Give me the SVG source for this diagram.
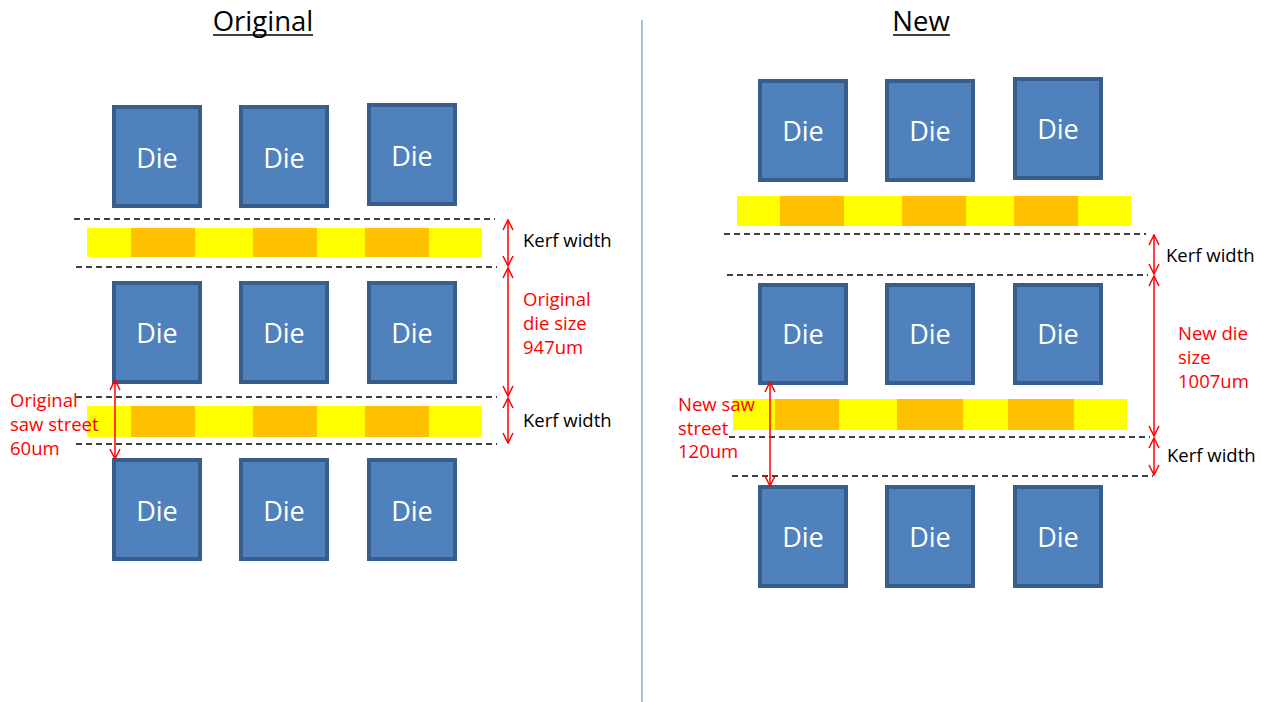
<svg xmlns="http://www.w3.org/2000/svg" width="1261" height="702" viewBox="0 0 1261 702">
<style>
.die rect{fill:#4F81BD;stroke:#385D8A;stroke-width:4}
.die text{fill:#fff;font-family:"Open Sans","Liberation Sans",sans-serif;font-size:27px;text-anchor:middle;dominant-baseline:central}
.strip{fill:#FFFF00}
.seg{fill:#FFC000}
.dash{stroke:#000;stroke-width:1.3;stroke-dasharray:6,4;fill:none}
.dim{stroke:#FF0000;stroke-width:1.5;fill:none}
.lbl{font-family:"Open Sans","Liberation Sans",sans-serif;font-size:18.5px;fill:#000}
.red{fill:#FF0000}
.title{font-family:"Open Sans","Liberation Sans",sans-serif;font-size:27.5px;fill:#000;text-anchor:middle}
</style>
<defs>
<marker id="ah" viewBox="0 0 12 12" refX="11" refY="6" markerWidth="12" markerHeight="12" markerUnits="userSpaceOnUse" orient="auto-start-reverse">
<path d="M1,1 L11,6 L1,11" fill="none" stroke="#FF0000" stroke-width="1.5"/>
</marker>
</defs>
<rect width="1261" height="702" fill="#fff"/>
<line x1="642" y1="20" x2="642" y2="702" stroke="#5B9BD5" stroke-width="1.2"/>
<g id="title-original"><text class="title" x="263" y="31">Original</text><line x1="213" y1="35" x2="313" y2="35" stroke="#000" stroke-width="1.5"/></g>
<g id="title-new"><text class="title" x="921" y="31">New</text><line x1="893" y1="35" x2="950" y2="35" stroke="#000" stroke-width="1.5"/></g>

<!-- Original dies -->
<g id="o-d11" class="die"><rect x="114" y="107" width="86" height="99"/><text x="157" y="157">Die</text></g>
<g id="o-d12" class="die"><rect x="241" y="107" width="86" height="99"/><text x="284" y="157">Die</text></g>
<g id="o-d13" class="die"><rect x="369" y="105" width="86" height="99"/><text x="412" y="155">Die</text></g>
<g id="o-d21" class="die"><rect x="114" y="283" width="86" height="99"/><text x="157" y="332">Die</text></g>
<g id="o-d22" class="die"><rect x="241" y="283" width="86" height="99"/><text x="284" y="332">Die</text></g>
<g id="o-d23" class="die"><rect x="369" y="283" width="86" height="99"/><text x="412" y="332">Die</text></g>
<g id="o-d31" class="die"><rect x="114" y="460" width="86" height="99"/><text x="157" y="510">Die</text></g>
<g id="o-d32" class="die"><rect x="241" y="460" width="86" height="99"/><text x="284" y="510">Die</text></g>
<g id="o-d33" class="die"><rect x="369" y="460" width="86" height="99"/><text x="412" y="510">Die</text></g>

<g id="o-strip1"><rect class="strip" x="87" y="228" width="395" height="29"/><rect class="seg" x="131" y="228" width="64" height="29"/><rect class="seg" x="253" y="228" width="64" height="29"/><rect class="seg" x="365" y="228" width="64" height="29"/></g>
<g id="o-strip2"><rect class="strip" x="87" y="406" width="395" height="31"/><rect class="seg" x="131" y="406" width="64" height="31"/><rect class="seg" x="253" y="406" width="64" height="31"/><rect class="seg" x="365" y="406" width="64" height="31"/></g>

<!-- New dies -->
<g id="n-d11" class="die"><rect x="760" y="81" width="86" height="99"/><text x="803" y="130">Die</text></g>
<g id="n-d12" class="die"><rect x="887" y="81" width="86" height="99"/><text x="930" y="130">Die</text></g>
<g id="n-d13" class="die"><rect x="1015" y="79" width="86" height="99"/><text x="1058" y="128">Die</text></g>
<g id="n-d21" class="die"><rect x="760" y="285" width="86" height="98"/><text x="803" y="333">Die</text></g>
<g id="n-d22" class="die"><rect x="887" y="285" width="86" height="98"/><text x="930" y="333">Die</text></g>
<g id="n-d23" class="die"><rect x="1015" y="285" width="86" height="98"/><text x="1058" y="333">Die</text></g>
<g id="n-d31" class="die"><rect x="760" y="487" width="86" height="99"/><text x="803" y="536">Die</text></g>
<g id="n-d32" class="die"><rect x="887" y="487" width="86" height="99"/><text x="930" y="536">Die</text></g>
<g id="n-d33" class="die"><rect x="1015" y="487" width="86" height="99"/><text x="1058" y="536">Die</text></g>

<g id="n-strip1"><rect class="strip" x="737" y="196" width="394" height="30"/><rect class="seg" x="780" y="196" width="64" height="30"/><rect class="seg" x="902" y="196" width="64" height="30"/><rect class="seg" x="1014" y="196" width="64" height="30"/></g>
<g id="n-strip2"><rect class="strip" x="733" y="399" width="394" height="31"/><rect class="seg" x="775" y="399" width="64" height="31"/><rect class="seg" x="897" y="399" width="66" height="31"/><rect class="seg" x="1008" y="399" width="66" height="31"/></g>

<g id="connectors">
<line class="dash" x1="74" y1="219" x2="495" y2="219"/>
<line class="dash" x1="76" y1="267" x2="497" y2="267"/>
<line class="dash" x1="76" y1="397" x2="497" y2="397"/>
<line class="dash" x1="76" y1="444" x2="497" y2="444"/>
<line class="dim" x1="508" y1="220" x2="508" y2="266" marker-start="url(#ah)" marker-end="url(#ah)"/>
<line class="dim" x1="508" y1="268" x2="508" y2="396" marker-start="url(#ah)" marker-end="url(#ah)"/>
<line class="dim" x1="508" y1="398" x2="508" y2="443" marker-start="url(#ah)" marker-end="url(#ah)"/>
<line class="dim" x1="115" y1="380" x2="115" y2="459" marker-start="url(#ah)" marker-end="url(#ah)"/>

<line class="dash" x1="724" y1="234" x2="1146" y2="234"/>
<line class="dash" x1="727" y1="275" x2="1148" y2="275"/>
<line class="dash" x1="729" y1="437" x2="1150" y2="437"/>
<line class="dash" x1="732" y1="476" x2="1153" y2="476"/>
<line class="dim" x1="1154" y1="235" x2="1154" y2="274" marker-start="url(#ah)" marker-end="url(#ah)"/>
<line class="dim" x1="1154" y1="276" x2="1154" y2="436" marker-start="url(#ah)" marker-end="url(#ah)"/>
<line class="dim" x1="1154" y1="438" x2="1154" y2="475" marker-start="url(#ah)" marker-end="url(#ah)"/>
<line class="dim" x1="770" y1="382" x2="770" y2="486" marker-start="url(#ah)" marker-end="url(#ah)"/>
</g>

<g id="labels">
<text class="lbl" x="523" y="247">Kerf width</text>
<text class="lbl red" x="523" y="306">Original</text>
<text class="lbl red" x="523" y="330">die size</text>
<text class="lbl red" x="523" y="354">947um</text>
<text class="lbl" x="523" y="427">Kerf width</text>
<text class="lbl red" x="10" y="407">Original</text>
<text class="lbl red" x="10" y="431">saw street</text>
<text class="lbl red" x="10" y="455">60um</text>

<text class="lbl" x="1166" y="262">Kerf width</text>
<text class="lbl red" x="1178" y="340">New die</text>
<text class="lbl red" x="1178" y="364">size</text>
<text class="lbl red" x="1178" y="388">1007um</text>
<text class="lbl" x="1167" y="462">Kerf width</text>
<text class="lbl red" x="678" y="411">New saw</text>
<text class="lbl red" x="678" y="435">street</text>
<text class="lbl red" x="678" y="458">120um</text>
</g>
</svg>
